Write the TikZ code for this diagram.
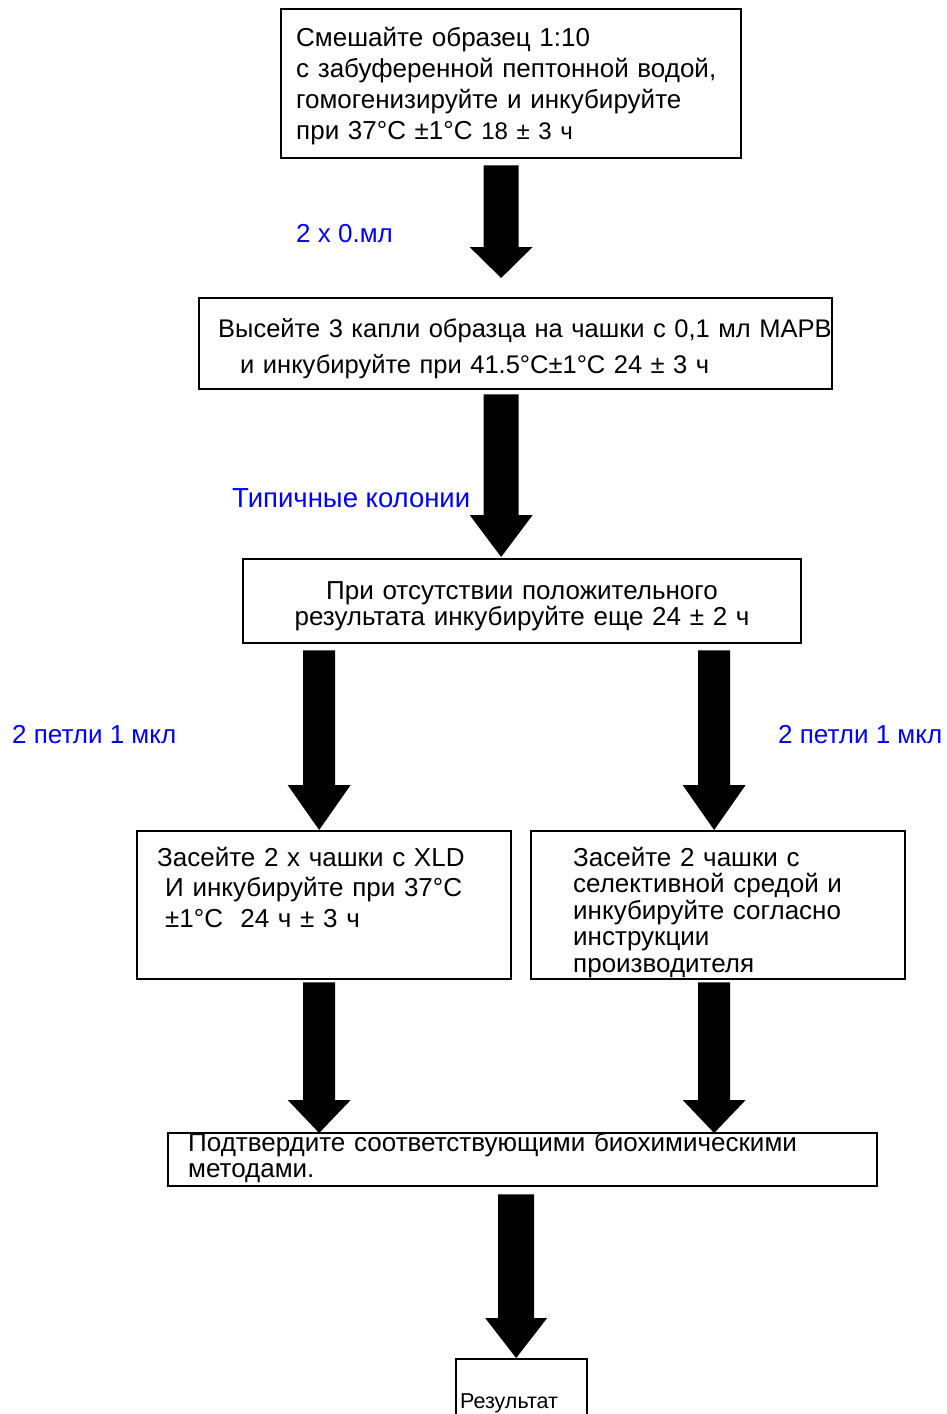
\documentclass[tikz,border=0pt]{standalone}
\usepackage{fontspec}
\setmainfont{Liberation Sans}
\usetikzlibrary{calc}
\definecolor{lblue}{RGB}{0,0,255}
\tikzset{
  box/.style={draw=black, line width=2.3pt, fill=white, anchor=north west, inner sep=0pt},
  txt/.style={anchor=base west, inner sep=0pt, text width=720pt, align=left,
              font=\fontsize{26pt}{31pt}\selectfont},
  lbl/.style={anchor=base west, inner sep=0pt, text=lblue, font=\fontsize{26pt}{30pt}\selectfont},
  barrow/.style n args={3}{to path={let \p1=(\tikztostart), \p2=(\tikztotarget) in
     (\x1-#1pt,\y1) -- (\x1+#1pt,\y1) -- (\x1+#1pt,\y2+#3pt) -- (\x1+#2pt,\y2+#3pt)
     -- (\x1,\y2) -- (\x1-#2pt,\y2+#3pt) -- (\x1-#1pt,\y2+#3pt) -- cycle}},
}
\begin{document}
\begin{tikzpicture}[x=1pt,y=-1pt]
\useasboundingbox[fill=white] (0,0) rectangle (946,1414);

% boxes
\node[box, minimum width=460pt, minimum height=149pt] (b1) at (280,8) {};
\node[box, minimum width=633pt, minimum height=91pt] (b2) at (198,297) {};
\node[box, minimum width=558pt, minimum height=84pt] (b3) at (242,558) {};
\node[box, minimum width=374pt, minimum height=148pt] (b4) at (136,830) {};
\node[box, minimum width=374pt, minimum height=148pt] (b5) at (530,830) {};
\node[box, minimum width=709pt, minimum height=53pt] (b6) at (167,1132) {};
\node[box, minimum width=131pt, minimum height=70pt] (b7) at (455,1358) {};

% texts
\node[txt] (t1) at (296,46) {Смешайте образец 1:10\\с забуференной пептонной водой,\\гомогенизируйте и инкубируйте\\при 37°C ±1°C {\fontsize{24pt}{31pt}\selectfont 18 ± 3 ч}};
\node[txt, font=\fontsize{25.5pt}{36pt}\selectfont] (t2) at (218,337) {Высейте 3 капли образца на чашки с 0,1 мл МАРВ\\\hspace*{22pt}и инкубируйте при 41.5°C±1°C 24 ± 3 ч};
\node[txt, anchor=base, align=center, text width=600pt, font=\fontsize{26pt}{26pt}\selectfont] (t3) at (522,599) {При отсутствии положительного\\результата инкубируйте еще 24 ± 2 ч};
\node[txt, font=\fontsize{26pt}{30.5pt}\selectfont] (t4) at (157,866) {Засейте 2 х чашки с XLD\\\hspace*{8pt}И инкубируйте при 37°C\\\hspace*{8pt}±1°C\ \ 24 ч ± 3 ч};
\node[txt, font=\fontsize{26pt}{26.5pt}\selectfont] (t5) at (573,866) {Засейте 2 чашки с\\селективной средой и\\инкубируйте согласно\\инструкции\\производителя};
\node[txt, font=\fontsize{26pt}{26pt}\selectfont] (t6) at (188,1151) {Подтвердите соответствующими биохимическими\\методами.};
\node[txt, font=\fontsize{21.5pt}{24pt}\selectfont] (t7) at (460,1408) {Результат};

% labels
\node[lbl] (l1) at (296,242) {2 x 0.мл};
\node[lbl, font=\fontsize{27.5pt}{30pt}\selectfont] (l2) at (232,507) {Типичные колонии};
\node[lbl] (l3) at (12,743) {2 петли 1 мкл};
\node[lbl] (l4) at (778,743) {2 петли 1 мкл};

% block arrows
\fill ([xshift=-10pt,yshift=-6pt]b1.south) to[barrow={17.5}{31.5}{31}] ([yshift=19pt]b2.north);
\fill ([xshift=-14.5pt,yshift=-4pt]b2.south) to[barrow={17.5}{31.5}{42}] ([yshift=1pt]b3.north);
\fill ([xshift=-203pt,yshift=-6pt]b3.south) to[barrow={16}{31.5}{45}] (b4.north);
\fill ([xshift=192pt,yshift=-6pt]b3.south) to[barrow={16}{31.5}{45}] (b5.north);
\fill ([xshift=-5pt,yshift=-2pt]b4.south) to[barrow={16}{31.5}{33}] ([yshift=-1pt]b6.north);
\fill ([xshift=-4pt,yshift=-2pt]b5.south) to[barrow={16}{31.5}{33}] ([yshift=-1pt]b6.north);
\fill ([xshift=-6.5pt,yshift=-7pt]b6.south) to[barrow={18}{31}{40}] (b7.north);
\end{tikzpicture}
\end{document}
